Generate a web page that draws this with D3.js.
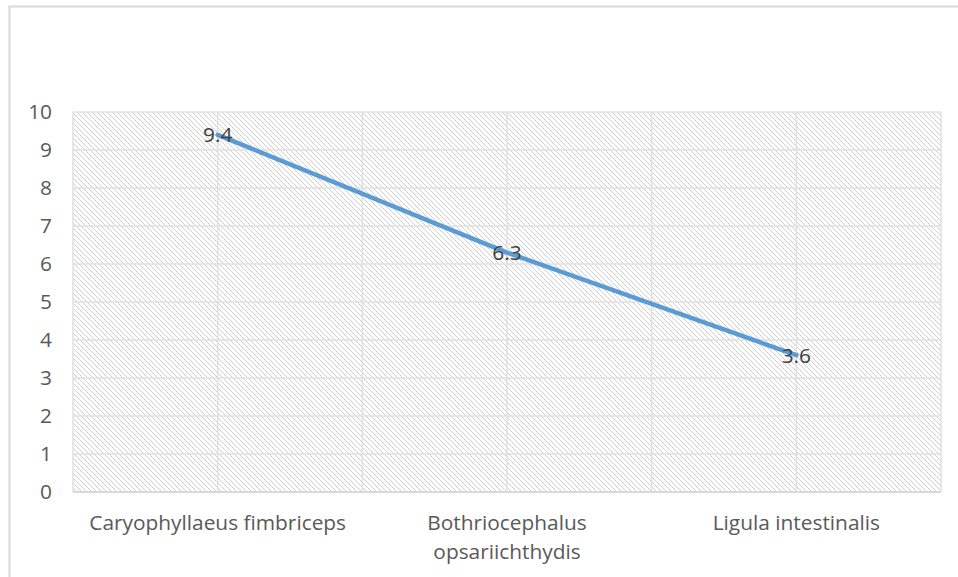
<!DOCTYPE html>
<html><head><meta charset="utf-8">
<script src="https://cdn.jsdelivr.net/npm/d3@7"></script>
<style>body{margin:0;background:#fff}svg{display:block}</style>
</head><body>
<svg id="c" width="958" height="577"></svg>
<script>
const categories = [["Caryophyllaeus fimbriceps"], ["Bothriocephalus", "opsariichthydis"], ["Ligula intestinalis"]];
const values = [9.4, 6.3, 3.6];
const yTicks = [0,1,2,3,4,5,6,7,8,9,10];

const svg = d3.select("#c");
const font = "'Open Sans', Lato, sans-serif";
const m = {left:73, right:941, top:112, bottom:492};

svg.append("rect").attr("x",9.5).attr("y",6.5).attr("width",1000).attr("height",1000)
  .attr("fill","#fff").attr("stroke","#d9d9d9").attr("stroke-width",2);

const defs = svg.append("defs");
const pat = defs.append("pattern").attr("id","hatch").attr("patternUnits","userSpaceOnUse")
  .attr("width",5).attr("height",5);
pat.append("rect").attr("width",5).attr("height",5).attr("fill","#fff");
pat.append("path").attr("d","M-1,-1 L6,6 M-1,4 L1,6 M4,-1 L6,1").attr("stroke","#cfcfcf").attr("stroke-width",1);

const keys = categories.map((c,i)=>i);
const x = d3.scaleBand().domain(keys).range([m.left, m.right]);
const y = d3.scaleLinear().domain([0,10]).range([m.bottom, m.top]);

svg.append("rect").attr("x",m.left).attr("y",m.top).attr("width",m.right-m.left).attr("height",m.bottom-m.top)
  .attr("fill","url(#hatch)");

const g = svg.append("g");
g.selectAll(".hg").data(yTicks).join("line")
  .attr("x1",m.left).attr("x2",m.right).attr("y1",d=>y(d)).attr("y2",d=>y(d))
  .attr("stroke","#e0e0e0").attr("stroke-width",1.5);
const vx = [];
keys.forEach(k=>{ vx.push(x(k)); vx.push(x(k)+x.bandwidth()/2); });
vx.push(m.right);
g.selectAll(".vg").data(vx).join("line")
  .attr("x1",d=>d).attr("x2",d=>d).attr("y1",m.top).attr("y2",m.bottom)
  .attr("stroke","#e0e0e0").attr("stroke-width",1.5);
g.append("line").attr("x1",m.left).attr("x2",m.right).attr("y1",m.bottom).attr("y2",m.bottom)
  .attr("stroke","#d9d9d9").attr("stroke-width",2);

// size fonts so the widest category label matches the reference width
const probe = svg.append("text").attr("font-family",font).attr("font-size",16).text(categories[0][0]);
const fs = 16*257/probe.node().getComputedTextLength();
probe.remove();

svg.selectAll(".yt").data(yTicks).join("text")
  .attr("x",52).attr("y",d=>y(d)).attr("dy","0.35em").attr("text-anchor","end")
  .attr("font-family",font).attr("font-size",fs).attr("fill","#595959").text(d=>d);

const cx = i => x(i)+x.bandwidth()/2;
categories.forEach((lines,i)=>{
  const t = svg.append("text").attr("text-anchor","middle").attr("font-family",font)
    .attr("font-size",fs).attr("fill","#595959");
  lines.forEach((l,j)=>t.append("tspan").attr("x",cx(i)).attr("y",530+j*29).text(l));
});

const line = d3.line().x((d,i)=>cx(i)).y(d=>y(d));
svg.append("path").datum(values).attr("d",line).attr("fill","none")
  .attr("stroke","#5b9bd5").attr("stroke-width",4.5).attr("stroke-linecap","round");

svg.selectAll(".lbl").data(values).join("text")
  .attr("x",(d,i)=>cx(i)).attr("y",d=>y(d)).attr("dy","0.35em").attr("text-anchor","middle")
  .attr("font-family",font).attr("font-size",fs).attr("fill","#404040").text(d=>d.toFixed(1));
</script>
</body></html>
